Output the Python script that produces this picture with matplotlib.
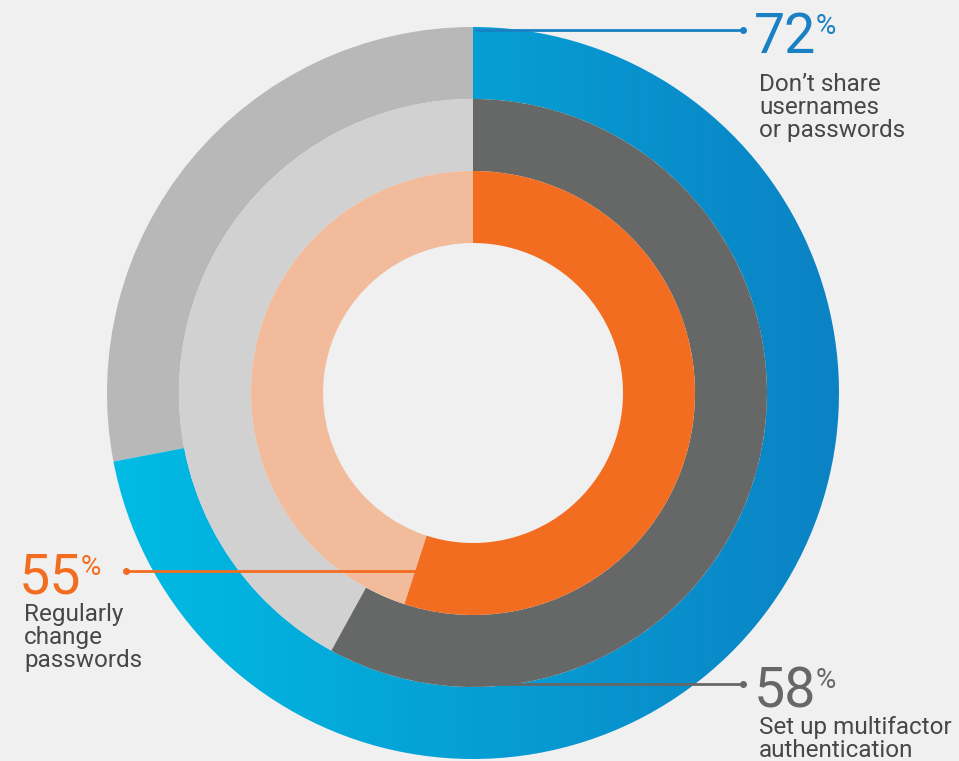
import numpy as np
import matplotlib.pyplot as plt
from matplotlib.patches import Wedge
from matplotlib.colors import LinearSegmentedColormap

# data
labels = ["Don\u2019t share\nusernames\nor passwords", "Set up multifactor\nauthentication", "Regularly\nchange\npasswords"]
values = [72, 58, 55]          # outer, middle, inner ring
main_colors = [None, "#666867", "#f36d21"]   # outer ring uses blue gradient
rest_colors = ["#b8b8b8", "#d1d1d1", "#f2bc9c"]
label_colors = ["#1a80c4", "#666867", "#f36d21"]

W, H = 959, 761
bg = "#f0f0f0"
fig = plt.figure(figsize=(W / 100, H / 100), dpi=100, facecolor=bg)
ax = fig.add_axes([0, 0, 1, 1])
ax.set_xlim(0, W)
ax.set_ylim(0, H)
ax.set_aspect("equal")
ax.axis("off")
ax.set_facecolor(bg)

cx, cy = 473, H - 393
radii = [366, 294, 222]
width = 72

for i, (v, r) in enumerate(zip(values, radii)):
    t1 = 90 - 360 * v / 100
    rest = Wedge((cx, cy), r, 90, 360 + t1, width=width, facecolor=rest_colors[i], edgecolor="none")
    ax.add_patch(rest)
    main = Wedge((cx, cy), r, t1, 90, width=width, facecolor=main_colors[i] or "none", edgecolor="none")
    ax.add_patch(main)
    if main_colors[i] is None:
        # blue horizontal gradient clipped to the wedge
        cmap = LinearSegmentedColormap.from_list("blu", ["#00bce4", "#0b82c4"])
        grad = np.linspace(0, 1, 256).reshape(1, -1)
        im = ax.imshow(grad, cmap=cmap, extent=[cx - r, cx + r, cy - r, cy + r],
                       aspect="auto", zorder=1, interpolation="bilinear")
        im.set_clip_path(main)

font = "Roboto"

# leader lines + percentages
def callout(x0, x1, y, col, num, nx, px, txt, tx, ty):
    yy = H - y
    ax.plot([x0, x1], [yy, yy], color=col, lw=2, solid_capstyle="butt", zorder=3)
    ax.plot([x1], [yy], "o", color=col, ms=4, zorder=3)
    ax.text(nx, H - (y + 23), num, color=col, fontsize=40, family=font,
            ha="left", va="baseline")
    ax.text(px, H - (y - 17), "%", color=col, fontsize=20, family=font,
            ha="left", va="top")
    ax.text(tx, H - ty, txt, color="#474747", fontsize=17.5, family=font,
            ha="left", va="top", linespacing=1.0)

callout(475, 743, 30, label_colors[0], str(values[0]), 754, 816, labels[0], 759, 73)
callout(470, 743, 684, label_colors[1], str(values[1]), 754, 816, labels[1], 759, 716)
callout(420, 126, 571, label_colors[2], str(values[2]), 19, 81, labels[2], 24, 603)

fig.savefig("out.png", dpi=100, facecolor=bg)
